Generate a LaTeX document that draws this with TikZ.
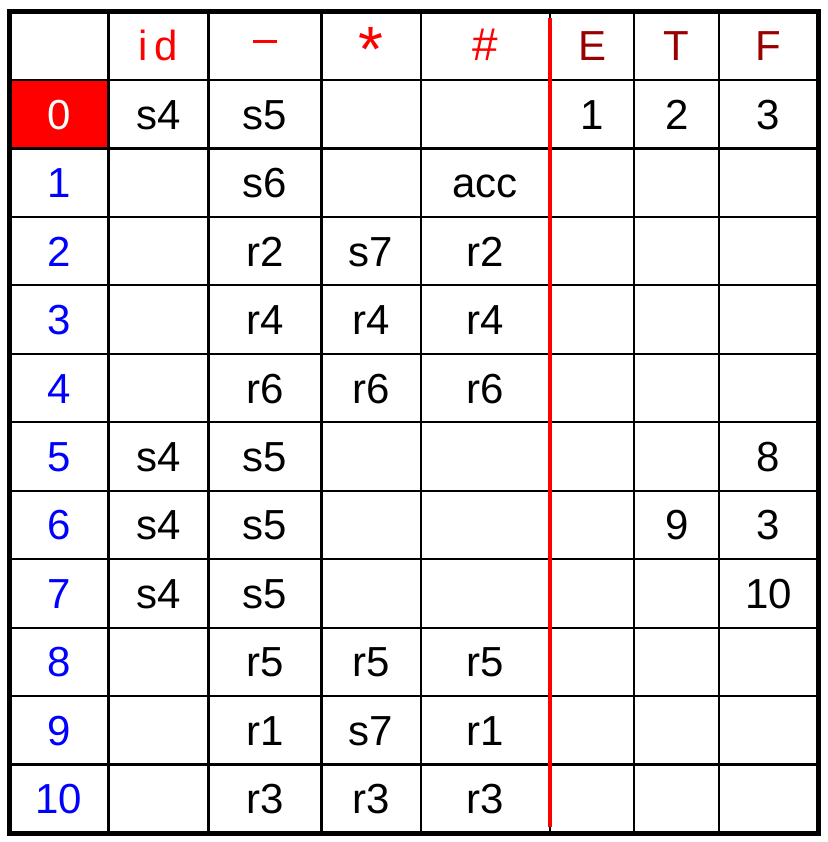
\documentclass[tikz,border=0pt]{standalone}
\usepackage{fontspec}
\setmainfont{Liberation Sans}
\definecolor{hdred}{HTML}{FF0000}
\definecolor{ntred}{HTML}{990000}
\definecolor{stblue}{HTML}{0000FF}
\begin{document}
\begin{tikzpicture}[x=1pt,y=-1pt,
  cell/.style={anchor=base,inner sep=0pt,font=\fontsize{42}{42}\selectfont},
  hdr/.style={cell,text=hdred},
  nt/.style={cell,text=ntred},
  st/.style={cell,text=stblue},
  grid/.style={line width=2.2pt,black},
  outer/.style={line width=5pt,black},
  sep/.style={line width=4pt,hdred}]
\useasboundingbox (0,0) rectangle (827,842);
\def\rh{68.46}
% column centres
\def\cA{59}\def\cB{158.5}\def\cC{265}\def\cD{371}\def\cE{485.3}\def\cF{592}\def\cG{676.8}\def\cH{768.6}
% red fill for state 0
\fill[hdred] (9.5,79.96) rectangle (108.5,148.42);
% horizontal grid lines
\foreach \i in {1,...,11}{
  \draw[grid] (9.5,11.5+\rh*\i) -- (818,11.5+\rh*\i);
}
% vertical grid lines
\foreach \x in {108.5,208.5,321.5,420.7,550,634.3,719.3}{
  \draw[grid] (\x,11.5) -- (\x,833);
}
\draw[outer] (9.5,11.5) rectangle (818,833);
\draw[sep] (550,18) -- (550,827);
% header
\node[hdr] (hid) at (\cB,11.5+34.2+15) {i\kern7pt d};
\node[hdr] (hmin) at (\cC,11.5+34.2+15) {\raisebox{18pt}{\rule{24pt}{3pt}}};
\node[hdr] (hstar) at (\cD,11.5+34.2+15) {\fontsize{64}{64}\selectfont\raisebox{-11pt}{*}};
\node[hdr] (hhash) at (\cE,11.5+34.2+15) {\fontsize{46}{46}\selectfont\#};
\node[nt] (hE) at (\cF,11.5+34.2+15) {E};
\node[nt] (hT) at (\cG,11.5+34.2+15) {T};
\node[nt] (hF) at (\cH,11.5+34.2+15) {F};
% state numbers
\node[cell,text=white] (s0) at (\cA,11.5+\rh*1+34.2+15) {0};
\foreach \i in {1,...,10}{
  \node[st] (s\i) at (\cA,11.5+\rh*\i+\rh+34.2+15) {\i};
}
% table entries: row, column centre, text
\foreach \r/\c/\t [count=\k] in {
  1/\cB/s4, 1/\cC/s5, 1/\cF/1, 1/\cG/2, 1/\cH/3,
  2/\cC/s6, 2/\cE/acc,
  3/\cC/r2, 3/\cD/s7, 3/\cE/r2,
  4/\cC/r4, 4/\cD/r4, 4/\cE/r4,
  5/\cC/r6, 5/\cD/r6, 5/\cE/r6,
  6/\cB/s4, 6/\cC/s5, 6/\cH/8,
  7/\cB/s4, 7/\cC/s5, 7/\cG/9, 7/\cH/3,
  8/\cB/s4, 8/\cC/s5, 8/\cH/10,
  9/\cC/r5, 9/\cD/r5, 9/\cE/r5,
  10/\cC/r1, 10/\cD/s7, 10/\cE/r1,
  11/\cC/r3, 11/\cD/r3, 11/\cE/r3}{
  \node[cell] (e\k) at (\c,11.5+\rh*\r+34.2+15) {\t};
}
\end{tikzpicture}
\end{document}
